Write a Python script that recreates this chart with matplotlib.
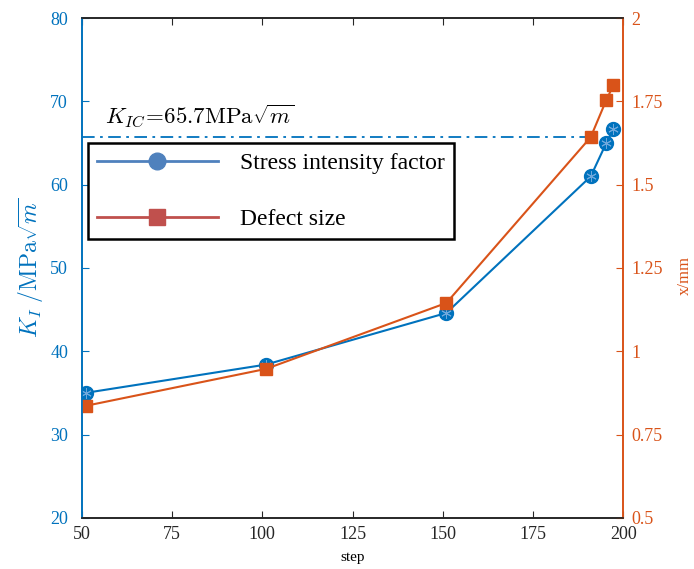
import matplotlib
matplotlib.use("Agg")
import matplotlib.pyplot as plt
from matplotlib.lines import Line2D

plt.rcParams["font.family"] = ["Liberation Serif", "DejaVu Serif"]
plt.rcParams["mathtext.fontset"] = "cm"

# data
steps = [51, 101, 151, 191, 195.3, 197.3]
ki = [35.0, 38.4, 44.6, 61.0, 65.0, 66.7]
defect = [0.836, 0.947, 1.145, 1.643, 1.754, 1.799]
kic = 65.7

blue = "#0072BD"
orange = "#D95319"

fig = plt.figure(figsize=(6.94, 5.69), dpi=100)
ax1 = fig.add_axes([0.118, 0.09, 0.78, 0.878])
ax2 = ax1.twinx()

ax1.plot(steps, ki, color=blue, lw=1.5, marker="o", ms=10, mfc=blue, mec=blue, zorder=3)
# asterisk drawn over each filled circle
ax1.plot(steps, ki, ls="none", marker=(6, 2, 0), ms=7.5, mec="#6fa8dc", mew=0.7, zorder=4)
ax1.plot([50, 192], [kic, kic], color=blue, lw=1.3, ls=(0, (7, 3, 1.5, 3)), zorder=2)
ax1.text(56.3, 67.4, r"$K_{IC}\!=\!65.7\mathrm{MPa}\sqrt{m}$", fontsize=16.5, color="black")

ax2.plot(steps, defect, color=orange, lw=1.5, marker="s", ms=8.5, mfc=orange, mec=orange)

ax1.set_xlim(50, 200)
ax1.set_ylim(20, 80)
ax2.set_ylim(0.5, 2)
ax1.set_xticks([50, 75, 100, 125, 150, 175, 200])
ax1.set_yticks([20, 30, 40, 50, 60, 70, 80])
ax2.set_yticks([0.5, 0.75, 1, 1.25, 1.5, 1.75, 2])
ax2.set_yticklabels(["0.5", "0.75", "1", "1.25", "1.5", "1.75", "2"])

ax1.tick_params(axis="x", direction="in", top=True, labelsize=13, length=5, colors="#262626", pad=6)
ax1.tick_params(axis="y", direction="in", colors=blue, labelsize=13, length=5, pad=10)
ax2.tick_params(axis="y", direction="in", colors=orange, labelsize=13, length=5, pad=6)

for ax in (ax1, ax2):
    ax.spines["left"].set_color(blue)
    ax.spines["right"].set_color(orange)
    ax.spines["top"].set_color("#262626")
    ax.spines["bottom"].set_color("#262626")
    for s in ax.spines.values():
        s.set_linewidth(1.2)

ax1.set_xlabel("step", fontsize=11, labelpad=6)
ax1.set_ylabel(r"$K_I\ /\mathrm{MPa}\sqrt{m}$", color=blue, fontsize=17, labelpad=3)
ax2.set_ylabel("x/mm", color=orange, fontsize=12)
ax2.yaxis.set_label_coords(1.1, 0.485)

handles = [
    Line2D([0], [0], color="#4F81BD", lw=2, marker="o", ms=12, mfc="#4F81BD", mec="#4F81BD"),
    Line2D([0], [0], color="#C0504D", lw=2, marker="s", ms=12, mfc="#C0504D", mec="#C0504D"),
]
leg = ax1.legend(handles, ["Stress intensity factor", "Defect size"], loc="upper left",
                 bbox_to_anchor=(0.011, 0.75), fontsize=17, handlelength=5.1,
                 handletextpad=0.95, borderpad=0.4, borderaxespad=0,
                 labelspacing=1.45, fancybox=False, framealpha=1, edgecolor="black")
leg.get_frame().set_linewidth(1.8)

fig.savefig("out.png", dpi=100)
